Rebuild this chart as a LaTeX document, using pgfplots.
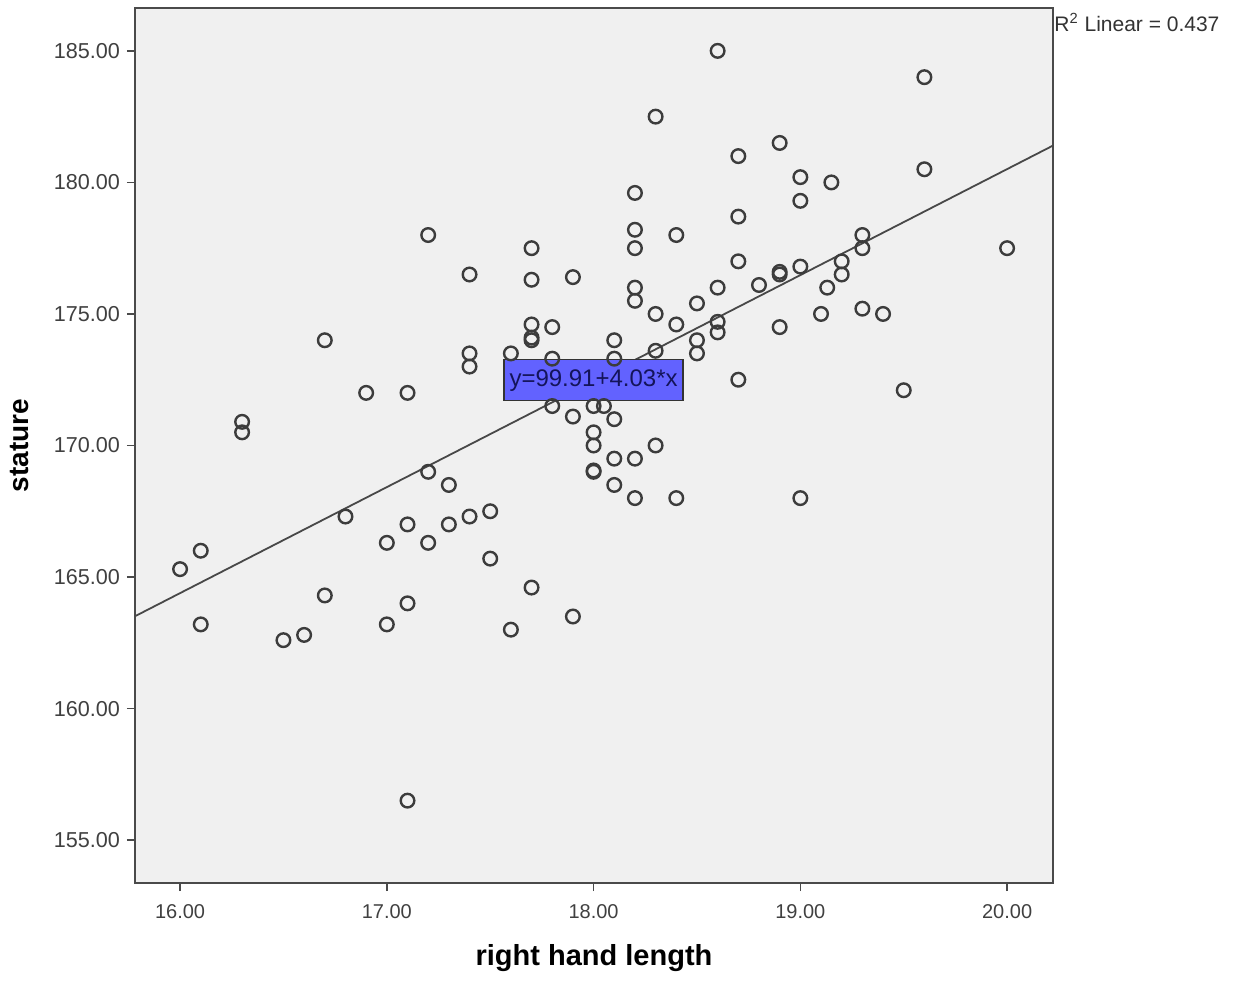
\documentclass[border=0pt]{standalone}
\usepackage{pgfplots}
\pgfplotsset{compat=1.18}
\usepackage{fontspec}
\setmainfont{Liberation Sans}
\definecolor{bg}{HTML}{F0F0F0}
\definecolor{mk}{HTML}{3C3C3C}
\definecolor{ln}{HTML}{484848}
\definecolor{ax}{HTML}{4A4A4A}
\definecolor{boxblue}{HTML}{6262FF}
\definecolor{boxtxt}{HTML}{14145A}
\begin{document}
\begin{tikzpicture}
\begin{axis}[
  scale only axis,
  width=459pt, height=437.5pt,
  xmin=15.782, xmax=20.222,
  ymin=153.37, ymax=186.63,
  axis background/.style={fill=bg},
  axis line style={ax, line width=1.1pt},
  xtick={16,17,18,19,20},
  ytick={155,160,165,170,175,180,185},
  xticklabel={\pgfmathprintnumber[fixed,fixed zerofill,precision=2]{\tick}},
  yticklabel={\pgfmathprintnumber[fixed,fixed zerofill,precision=2]{\tick}},
  /pgf/number format/assume math mode=true,
  /pgf/number format/1000 sep={},
  tick align=outside,
  tick pos=left,
  major tick length=4pt,
  tick style={ax, line width=0.8pt},
  xticklabel style={font=\fontsize{10}{11}\selectfont, text=black!75, yshift=-3pt},
  yticklabel style={font=\fontsize{10.8}{12}\selectfont, text=black!75},
  xlabel={\textbf{right hand length}},
  ylabel={\textbf{stature}},
  xlabel style={font=\fontsize{14.5}{16}\selectfont, at={(axis description cs:0.5,0)}, anchor=center, yshift=-37.5pt},
  ylabel style={font=\fontsize{14}{16}\selectfont, at={(axis description cs:0,0.5)}, anchor=center, yshift=57.5pt},
  clip=false,
]
\addplot[ln, line width=0.9pt] coordinates {(15.782,163.51) (20.222,181.40)};
\addplot[only marks, mark=o, mark size=3.4pt, mark options={mk, line width=1.2pt}] coordinates {
(18.6,185.0) (19.6,184.0) (18.3,182.5) (18.9,181.5) (18.7,181.0) (19.6,180.5)
(19.0,180.2) (19.15,180.0) (18.2,179.6) (19.0,179.3) (18.7,178.7) (17.2,178.0)
(18.2,178.2) (18.4,178.0) (19.3,178.0) (17.7,177.5) (18.2,177.5) (19.3,177.5)
(20.0,177.5) (18.7,177.0) (19.2,177.0) (19.2,176.5) (19.0,176.8) (18.9,176.5)
(18.9,176.6) (18.8,176.1) (19.13,176.0) (17.4,176.5) (17.7,176.3) (17.9,176.4)
(18.6,176.0) (18.2,176.0) (18.2,175.5) (18.5,175.4) (18.3,175.0) (19.1,175.0)
(19.3,175.2) (19.4,175.0) (18.9,174.5) (18.4,174.6) (18.6,174.7) (18.6,174.3)
(18.5,174.0) (18.5,173.5) (17.7,174.6) (17.7,174.0) (17.7,174.1) (17.8,174.5)
(17.4,173.5) (17.4,173.0) (17.6,173.5) (17.8,173.3) (18.1,174.0) (18.1,173.3)
(18.3,173.6) (16.7,174.0) (16.9,172.0) (17.1,172.0) (19.5,172.1) (18.7,172.5)
(16.3,170.9) (16.3,170.5) (17.8,171.5) (17.9,171.1) (18.0,171.5) (18.05,171.5)
(18.1,171.0) (18.0,170.5) (18.0,170.0) (18.3,170.0) (18.1,169.5) (18.2,169.5)
(18.0,169.0) (18.0,169.05) (17.2,169.0) (18.1,168.5) (17.3,168.5) (18.2,168.0)
(18.4,168.0) (19.0,168.0) (16.8,167.3) (17.4,167.3) (17.5,167.5) (17.3,167.0)
(17.1,167.0) (17.0,166.3) (17.2,166.3) (16.1,166.0) (17.5,165.7) (16.0,165.3)
(16.7,164.3) (17.7,164.6) (17.1,164.0) (17.9,163.5) (16.1,163.2) (17.0,163.2)
(17.6,163.0) (16.6,162.8) (16.5,162.6) (17.1,156.5)
};
\node[fill=boxblue, draw=black!80, line width=0.6pt, minimum width=89.5pt, minimum height=20.5pt, inner sep=0pt, text=boxtxt, font=\fontsize{12}{13}\selectfont] at (axis cs:18.0,172.48) {y=99.91+4.03*x};
\node[anchor=north west, inner sep=0pt, font=\fontsize{10.5}{12}\selectfont, text=black!80] at ([xshift=0.5pt,yshift=-2.5pt]rel axis cs:1,1) {R\textsuperscript{2} Linear = 0.437};
\end{axis}
\path (current axis.south west) ++(-67.5pt,-48.5pt) (current axis.north east) ++(91.5pt,4pt);
\end{tikzpicture}
\end{document}
